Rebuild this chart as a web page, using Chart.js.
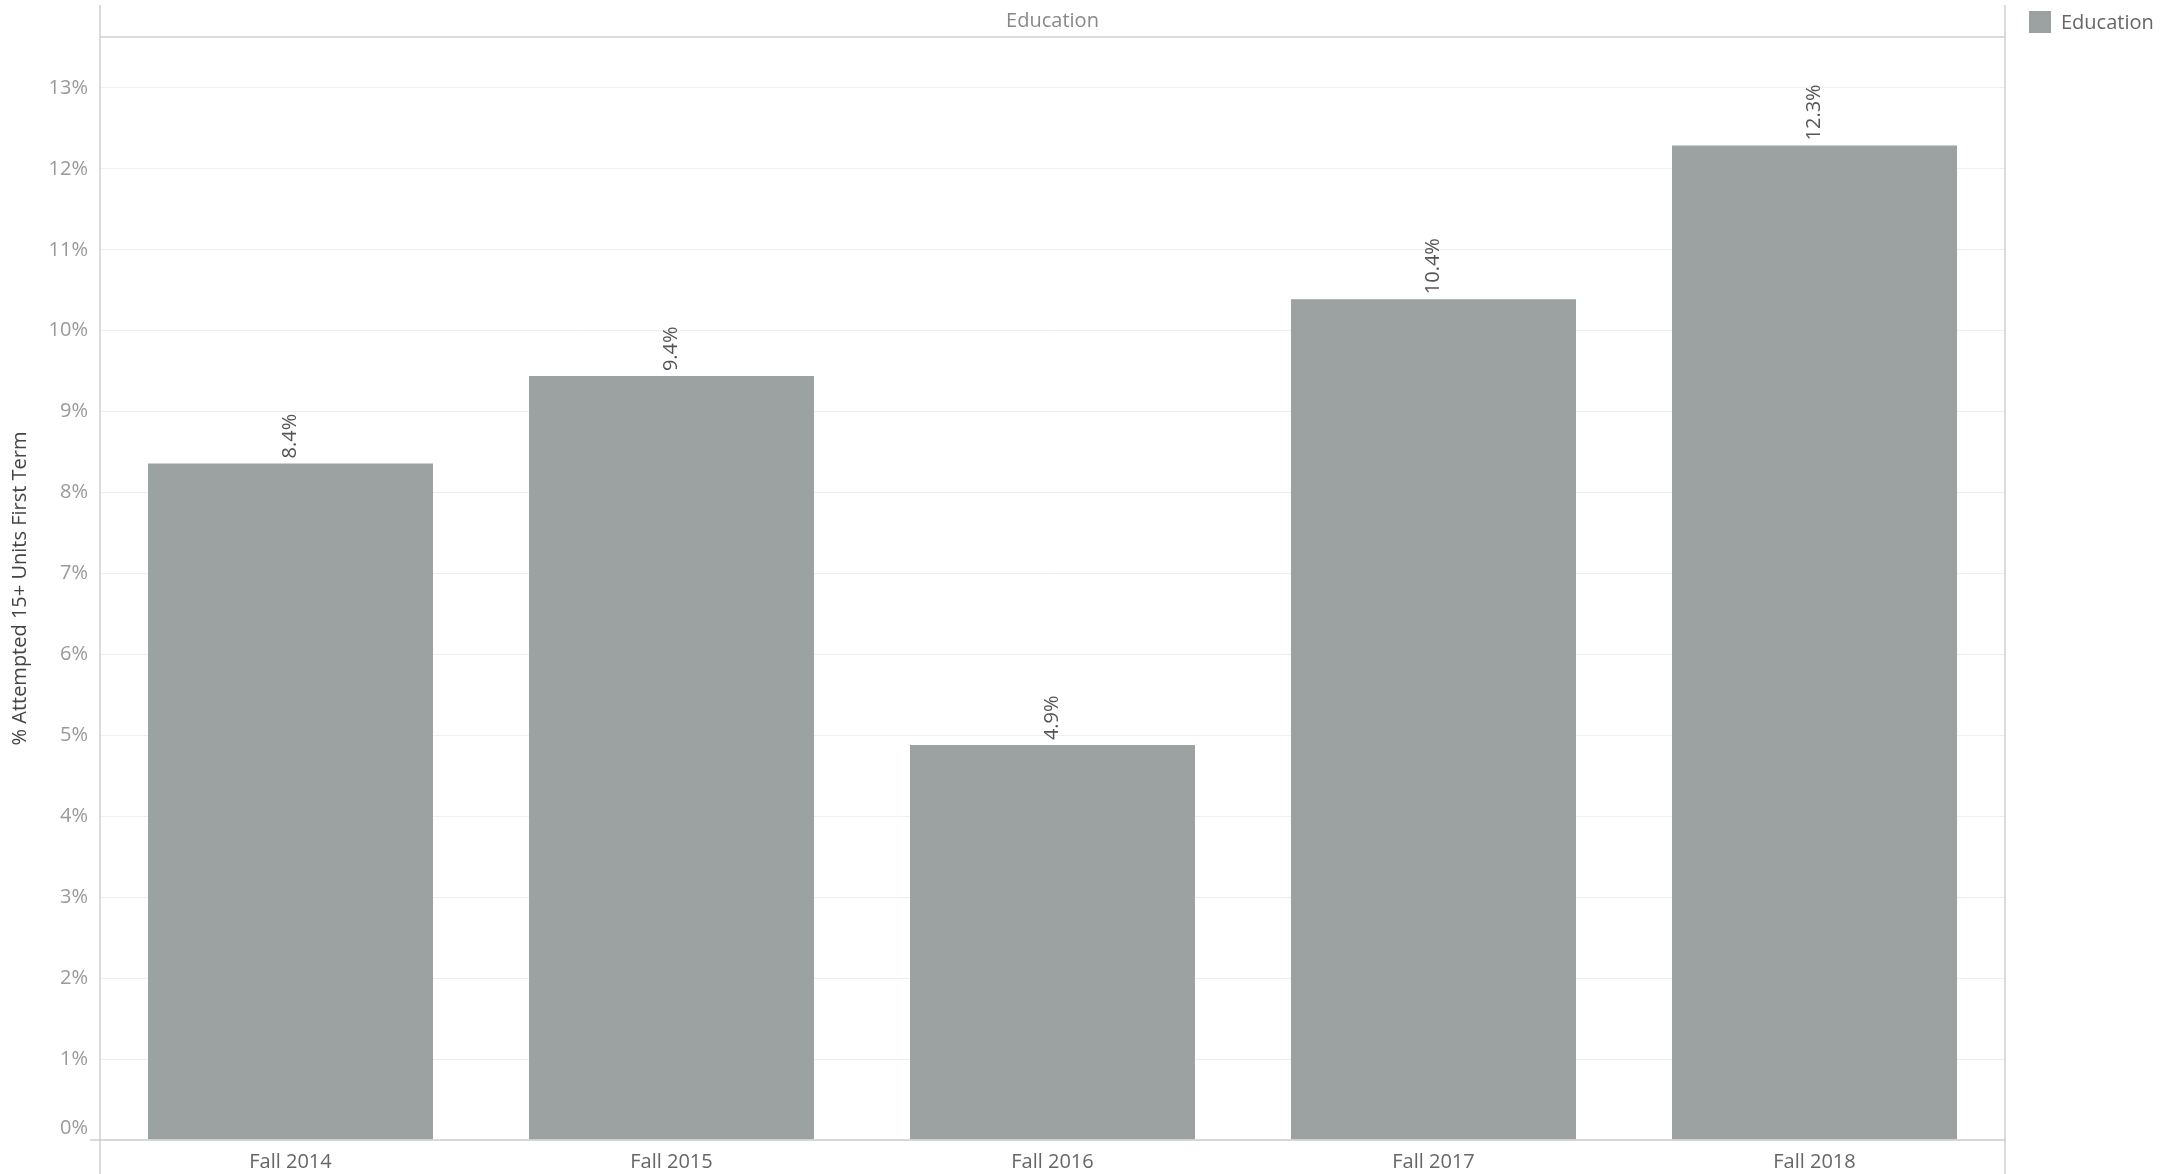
<!DOCTYPE html>
<html>
<head>
<meta charset="utf-8">
<script src="https://cdn.jsdelivr.net/npm/chart.js@4.4.0/dist/chart.umd.min.js"></script>
<style>
  html, body { margin: 0; padding: 0; background: #fff; }
  #wrap { position: relative; width: 2177px; height: 1174px; }
  #legend { position: absolute; left: 2029px; top: 8px; font: 20px "Open Sans", sans-serif; color: #666; display: flex; align-items: center; }
  #legend .sw { width: 22px; height: 22px; background: #9ca1a2; margin-right: 10px; }
</style>
</head>
<body>
<div id="wrap">
  <canvas id="chart" width="2177" height="1174"></canvas>
  <div id="legend"><span class="sw"></span><span>Education</span></div>
</div>
<script>
// Dados
const categorias = ['Fall 2014', 'Fall 2015', 'Fall 2016', 'Fall 2017', 'Fall 2018'];
const valores = [8.36, 9.44, 4.88, 10.39, 12.29];
const ticksY = [0, 1, 2, 3, 4, 5, 6, 7, 8, 9, 10, 11, 12, 13];
const facetTitulo = 'Education';
const eixoY = '% Attempted 15+ Units First Term';

const FONT = '"Open Sans", sans-serif';

// Molduras, cabeçalho e rótulos das barras
const moldura = {
  id: 'moldura',
  afterDraw(chart) {
    const { ctx, chartArea: a } = chart;
    ctx.save();
    ctx.strokeStyle = '#cfcfcf';
    ctx.lineWidth = 1.5;
    ctx.beginPath();
    ctx.moveTo(a.left, 5); ctx.lineTo(a.left, 1174);
    ctx.moveTo(a.right, 5); ctx.lineTo(a.right, 1174);
    ctx.moveTo(a.left, a.top); ctx.lineTo(a.right, a.top);
    ctx.moveTo(a.left - 10, a.bottom); ctx.lineTo(a.right, a.bottom);
    ctx.stroke();

    ctx.fillStyle = '#888';
    ctx.font = '20px ' + FONT;
    ctx.textAlign = 'center';
    ctx.textBaseline = 'middle';
    ctx.fillText(facetTitulo, (a.left + a.right) / 2, 21);

    // o 0% fica um pouco acima da linha, como no Tableau
    const y = chart.scales.y;
    ctx.fillStyle = '#999';
    ctx.textAlign = 'right';
    ctx.fillText('0%', a.left - 12, y.getPixelForValue(0) - 12);

    // valores rotacionados acima das barras
    const meta = chart.getDatasetMeta(0);
    ctx.fillStyle = '#555';
    meta.data.forEach((bar, i) => {
      ctx.save();
      ctx.translate(bar.x, bar.y - 5);
      ctx.rotate(-Math.PI / 2);
      ctx.textAlign = 'left';
      ctx.textBaseline = 'middle';
      ctx.fillText(valores[i].toFixed(1) + '%', 0, 0);
      ctx.restore();
    });
    ctx.restore();
  }
};

new Chart(document.getElementById('chart').getContext('2d'), {
  type: 'bar',
  data: {
    labels: categorias,
    datasets: [{
      label: facetTitulo,
      data: valores,
      backgroundColor: '#9ca1a2',
      categoryPercentage: 1,
      barPercentage: 0.748
    }]
  },
  options: {
    responsive: false,
    animation: false,
    layout: { padding: { top: 37, right: 172, bottom: 0, left: 0 } },
    plugins: { legend: { display: false }, tooltip: { enabled: false } },
    scales: {
      x: {
        grid: { display: false, drawTicks: false },
        border: { display: false },
        ticks: { color: '#666', font: { family: FONT, size: 20 }, padding: 10 },
        afterFit: s => { s.height = 34; }
      },
      y: {
        min: 0,
        max: 13.63,
        afterBuildTicks: s => { s.ticks = ticksY.map(v => ({ value: v })); },
        grid: { color: '#efefef', lineWidth: 1, drawTicks: false },
        border: { display: false },
        ticks: {
          color: c => (c.tick && c.tick.value === 0 ? 'rgba(0,0,0,0)' : '#999'),
          font: { family: FONT, size: 20 },
          padding: 12,
          callback: v => v + '%'
        },
        title: {
          display: true,
          text: eixoY,
          color: '#444',
          font: { family: FONT, size: 20 },
          padding: { top: 8, bottom: 0 }
        },
        afterFit: s => { s.width = 100; }
      }
    }
  },
  plugins: [moldura]
});
</script>
</body>
</html>
